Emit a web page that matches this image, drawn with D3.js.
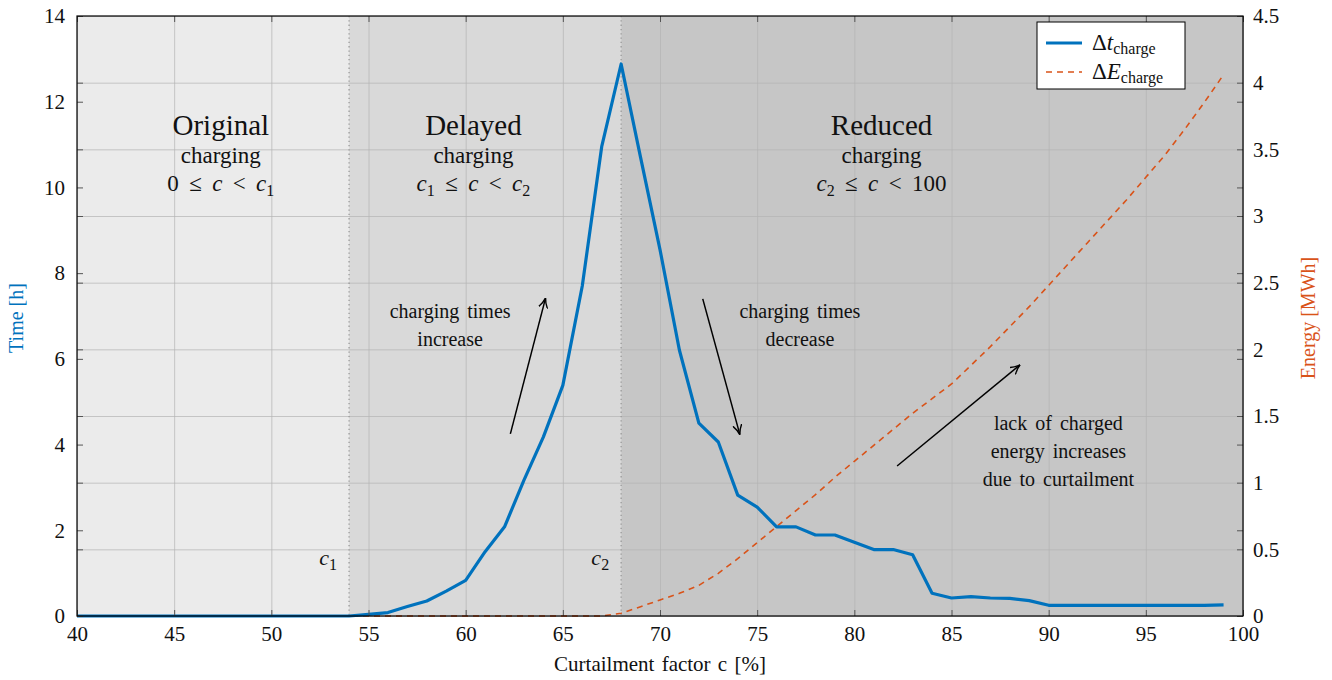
<!DOCTYPE html>
<html>
<head>
<meta charset="utf-8">
<script src="https://cdn.jsdelivr.net/npm/d3@7"></script>
<style>
  body { margin: 0; background: #fff; }
  text { font-family: "Liberation Serif", "DejaVu Serif", serif; fill: #111; }
</style>
</head>
<body>
<div id="chart"></div>
<script>
// curtailment factor c [%]
const cValues = [40, 41, 42, 43, 44, 45, 46, 47, 48, 49, 50, 51, 52, 53, 54, 55, 56, 57, 58, 59,
  60, 61, 62, 63, 64, 65, 66, 67, 68, 69, 70, 71, 72, 73, 74, 75, 76, 77, 78, 79,
  80, 81, 82, 83, 84, 85, 86, 87, 88, 89, 90, 91, 92, 93, 94, 95, 96, 97, 98, 99]

// delta t_charge [h]
const dtCharge = [0, 0, 0, 0, 0, 0, 0, 0, 0, 0, 0, 0, 0, 0, 0, 0.04, 0.08, 0.22, 0.35, 0.58,
  0.83, 1.5, 2.08, 3.17, 4.18, 5.38, 7.7, 10.95, 12.88, 10.7, 8.55, 6.2, 4.5, 4.06, 2.82, 2.54, 2.08, 2.08, 1.89, 1.89,
  1.72, 1.55, 1.55, 1.43, 0.53, 0.42, 0.45, 0.42, 0.41, 0.36, 0.25, 0.25, 0.25, 0.25, 0.25, 0.25, 0.25, 0.25, 0.25, 0.26]

// delta E_charge [MWh]
const dECharge = [0, 0, 0, 0, 0, 0, 0, 0, 0, 0, 0, 0, 0, 0, 0, 0, 0, 0, 0, 0,
  0, 0, 0, 0, 0, 0, 0, 0, 0.02, 0.07, 0.12, 0.17, 0.23, 0.32, 0.43, 0.55, 0.67, 0.79, 0.91, 1.04,
  1.16, 1.28, 1.4, 1.52, 1.63, 1.74, 1.88, 2.02, 2.17, 2.32, 2.48, 2.64, 2.8, 2.96, 3.12, 3.29, 3.46, 3.65, 3.85, 4.06]

const xTicks = [40, 45, 50, 55, 60, 65, 70, 75, 80, 85, 90, 95, 100]
const yLeftTicks = [0, 2, 4, 6, 8, 10, 12, 14]
const yRightTicks = [0, 0.5, 1, 1.5, 2, 2.5, 3, 3.5, 4, 4.5]

const regionNames = ['Original', 'Delayed', 'Reduced']
const regionFrom = [40, 54, 68]
const regionTo = [54, 68, 100]
const regionColors = ['#ebebeb', '#d9d9d9', '#c6c6c6']

const W = 1332
const H = 680
const margin = { top: 16, right: 89, bottom: 64, left: 77 }
const width = W - margin.left - margin.right
const height = H - margin.top - margin.bottom

const blue = '#0072bd'
const orange = '#d95319'

const svg = d3.select('#chart')
  .append('svg')
  .attr('width', W)
  .attr('height', H)

const g = svg.append('g')
  .attr('transform', 'translate(' + margin.left + ',' + margin.top + ')')

const x = d3.scaleLinear().domain([40, 100]).range([0, width])
const yL = d3.scaleLinear().domain([0, 14]).range([height, 0])
const yR = d3.scaleLinear().domain([0, 4.5]).range([height, 0])

// arrow head
svg.append('defs').append('marker')
  .attr('id', 'head')
  .attr('viewBox', '0 0 10 10')
  .attr('refX', 9)
  .attr('refY', 5)
  .attr('markerWidth', 10)
  .attr('markerHeight', 10)
  .attr('markerUnits', 'userSpaceOnUse')
  .attr('orient', 'auto')
  .append('path')
  .attr('d', 'M0,0.5 Q5,4 10,5 Q5,6 0,9.5')
  .attr('fill', 'none')
  .attr('stroke', '#000')
  .attr('stroke-width', 1.4)

// shaded regions
g.selectAll('.region')
  .data(regionNames)
  .enter()
  .append('rect')
  .attr('x', (d, i) => x(regionFrom[i]))
  .attr('width', (d, i) => x(regionTo[i]) - x(regionFrom[i]))
  .attr('y', 0)
  .attr('height', height)
  .attr('fill', (d, i) => regionColors[i])

// grid
g.append('g')
  .attr('class', 'grid')
  .call(d3.axisBottom(x).tickValues(xTicks).tickSize(height).tickFormat(''))
  .call(s => s.select('.domain').remove())
  .selectAll('line')
  .attr('stroke', '#b4b4b4')
  .attr('stroke-opacity', 0.7)

g.append('g')
  .attr('class', 'grid')
  .attr('transform', 'translate(' + width + ',0)')
  .call(d3.axisLeft(yR).tickValues(yRightTicks).tickSize(width).tickFormat(''))
  .call(s => s.select('.domain').remove())
  .selectAll('line')
  .attr('stroke', '#b4b4b4')
  .attr('stroke-opacity', 0.7)

// c1 / c2 boundaries
g.selectAll('.bound')
  .data([54, 68])
  .enter()
  .append('line')
  .attr('x1', d => x(d))
  .attr('x2', d => x(d))
  .attr('y1', 0)
  .attr('y2', height)
  .attr('stroke', '#999')
  .attr('stroke-width', 1.3)
  .attr('stroke-dasharray', '1.3,3')

// lines
const lineE = d3.line()
  .x((d, i) => x(cValues[i]))
  .y(d => yR(d))

const lineT = d3.line()
  .x((d, i) => x(cValues[i]))
  .y(d => yL(d))

g.append('path')
  .datum(dECharge)
  .attr('d', lineE)
  .attr('fill', 'none')
  .attr('stroke', orange)
  .attr('stroke-width', 1.6)
  .attr('stroke-dasharray', '6,5')

g.append('path')
  .datum(dtCharge)
  .attr('d', lineT)
  .attr('fill', 'none')
  .attr('stroke', blue)
  .attr('stroke-width', 3.2)
  .attr('stroke-linejoin', 'round')

// axes
const tickStyle = s => {
  s.attr('font-family', null)
  s.select('.domain').remove()
  s.selectAll('line').attr('stroke', '#555')
  s.selectAll('text')
    .style('font-family', '"Liberation Serif", serif')
    .style('font-size', '21px')
    .attr('fill', '#111')
}

g.append('g')
  .attr('transform', 'translate(0,' + height + ')')
  .call(d3.axisBottom(x).tickValues(xTicks).tickSizeInner(-6).tickSizeOuter(0).tickPadding(10))
  .call(tickStyle)

g.append('g')
  .call(d3.axisTop(x).tickValues(xTicks).tickSizeInner(-6).tickSizeOuter(0).tickFormat(''))
  .call(tickStyle)

g.append('g')
  .call(d3.axisLeft(yL).tickValues(yLeftTicks).tickSizeInner(-6).tickSizeOuter(0).tickPadding(12))
  .call(tickStyle)

g.append('g')
  .attr('transform', 'translate(' + width + ',0)')
  .call(d3.axisLeft(yL).tickValues(yLeftTicks).tickSizeInner(6).tickSizeOuter(0).tickFormat(''))
  .call(tickStyle)

g.append('g')
  .attr('transform', 'translate(' + width + ',0)')
  .call(d3.axisRight(yR).tickValues(yRightTicks).tickSizeInner(-6).tickSizeOuter(0).tickPadding(10).tickFormat(d => String(d)))
  .call(tickStyle)

g.append('g')
  .call(d3.axisRight(yR).tickValues(yRightTicks).tickSizeInner(6).tickSizeOuter(0).tickFormat(''))
  .call(tickStyle)

// frame
g.append('rect')
  .attr('width', width)
  .attr('height', height)
  .attr('fill', 'none')
  .attr('stroke', '#000')
  .attr('stroke-width', 1.2)

// axis titles
g.append('text')
  .attr('x', width / 2)
  .attr('y', height + 55)
  .attr('text-anchor', 'middle')
  .style('font-size', '21px')
  .style('word-spacing', '2px')
  .text('Curtailment factor c [%]')

g.append('text')
  .attr('transform', 'translate(' + (-54) + ',' + (height / 2 + 2) + ') rotate(-90)')
  .attr('text-anchor', 'middle')
  .style('font-size', '20px')
  .style('fill', blue)
  .text('Time [h]')

g.append('text')
  .attr('transform', 'translate(' + (width + 72) + ',' + (height / 2 + 2) + ') rotate(-90)')
  .attr('text-anchor', 'middle')
  .style('font-size', '20px')
  .style('fill', orange)
  .text('Energy [MWh]')

// region labels
function mathLine(sel, parts) {
  parts.forEach(p => {
    const t = sel.append('tspan').text(p.t)
    if (p.i) t.style('font-style', 'italic')
    if (p.sub) t.attr('dy', 5).style('font-size', '16px')
    if (p.up) t.attr('dy', -5)
  })
}

const regionMath = [
  [{ t: '0 \u2009≤\u2009 ' }, { t: 'c', i: true }, { t: ' \u2009<\u2009 ' }, { t: 'c', i: true }, { t: '1', sub: true }],
  [{ t: 'c', i: true }, { t: '1', sub: true }, { t: ' \u2009≤\u2009 ', up: true }, { t: 'c', i: true }, { t: ' \u2009<\u2009 ' }, { t: 'c', i: true }, { t: '2', sub: true }],
  [{ t: 'c', i: true }, { t: '2', sub: true }, { t: ' \u2009≤\u2009 ', up: true }, { t: 'c', i: true }, { t: ' \u2009<\u2009 100' }]
]
const regionLabelX = [47.4, 60.4, 81.4]

regionNames.forEach((name, i) => {
  const cx = x(regionLabelX[i])
  g.append('text').attr('x', cx).attr('y', 119).attr('text-anchor', 'middle')
    .style('font-size', '29px').text(name)
  g.append('text').attr('x', cx).attr('y', 147).attr('text-anchor', 'middle')
    .style('font-size', '23px').text('charging')
  const m = g.append('text').attr('x', cx).attr('y', 175).attr('text-anchor', 'middle')
    .style('font-size', '23px')
  mathLine(m, regionMath[i])
})

// c1, c2 markers
const boundLabels = [{ c: 54, n: '1' }, { c: 68, n: '2' }]
boundLabels.forEach(b => {
  const t = g.append('text')
    .attr('x', x(b.c) - 12)
    .attr('y', yL(1.2))
    .attr('text-anchor', 'end')
    .style('font-size', '22px')
  t.append('tspan').style('font-style', 'italic').text('c')
  t.append('tspan').attr('dy', 5).style('font-size', '16px').text(b.n)
})

// annotations
const notes = [
  { c: 59.2, y: 6.95, lines: ['charging times', 'increase'] },
  { c: 77.2, y: 6.95, lines: ['charging times', 'decrease'] },
  { c: 90.5, y: 4.35, lines: ['lack of charged', 'energy increases', 'due to curtailment'] }
]
notes.forEach(n => {
  n.lines.forEach((l, k) => {
    g.append('text')
      .attr('x', x(n.c))
      .attr('y', yL(n.y) + k * 28)
      .attr('text-anchor', 'middle')
      .style('font-size', '20px')
      .style('word-spacing', '3px')
      .text(l)
  })
})

// arrows in data coordinates: [c0, t0, c1, t1]
const arrows = [
  [62.3, 4.25, 64.1, 7.4],
  [72.2, 7.4, 74.1, 4.25],
  [82.2, 3.5, 88.5, 5.85]
]
g.selectAll('.arrow')
  .data(arrows)
  .enter()
  .append('line')
  .attr('x1', d => x(d[0]))
  .attr('y1', d => yL(d[1]))
  .attr('x2', d => x(d[2]))
  .attr('y2', d => yL(d[3]))
  .attr('stroke', '#000')
  .attr('stroke-width', 1.5)
  .attr('marker-end', 'url(#head)')

// legend
const lg = svg.append('g').attr('transform', 'translate(1037,22)')
lg.append('rect')
  .attr('width', 148)
  .attr('height', 67)
  .attr('fill', '#fff')
  .attr('stroke', '#000')
  .attr('stroke-width', 1)

lg.append('line').attr('x1', 9).attr('x2', 45).attr('y1', 21).attr('y2', 21)
  .attr('stroke', blue).attr('stroke-width', 3.2)
lg.append('line').attr('x1', 9).attr('x2', 45).attr('y1', 50).attr('y2', 50)
  .attr('stroke', orange).attr('stroke-width', 1.6).attr('stroke-dasharray', '6,5')

const legendItems = [{ s: 't', y: 28 }, { s: 'E', y: 57 }]
legendItems.forEach(it => {
  const t = lg.append('text').attr('x', 55).attr('y', it.y).style('font-size', '23px')
  t.append('tspan').text('Δ')
  t.append('tspan').style('font-style', 'italic').text(it.s)
  t.append('tspan').attr('dy', 4).style('font-size', '16px').text('charge')
})
</script>
</body>
</html>
